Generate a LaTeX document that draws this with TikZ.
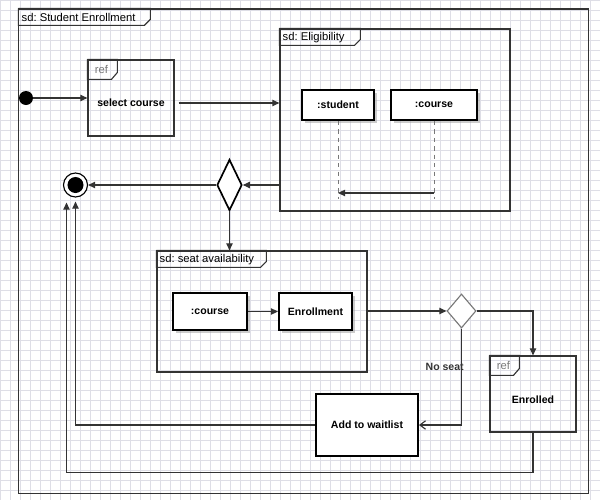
\documentclass[tikz,border=0pt]{standalone}
\usepackage{fontspec}
\setmainfont{Liberation Sans}
\usetikzlibrary{arrows.meta,positioning,shapes.geometric,shadows}
\definecolor{umlline}{RGB}{51,51,51}
\definecolor{umlgray}{RGB}{120,120,120}
\definecolor{gridgray}{RGB}{222,222,230}
\newcommand\lblfont{\fontsize{7.5}{9}\selectfont\bfseries\frenchspacing}
\newcommand\sdfont{\fontsize{8}{10}\selectfont\frenchspacing}

\begin{document}
\begin{tikzpicture}[x=0.025cm, y=-0.025cm,
  sdframe/.style={draw=umlline, line width=0.8pt, inner sep=0pt},
  refbox/.style={draw=umlline, line width=0.8pt, inner sep=0pt},
  objbox/.style={draw=black, line width=1.4pt, fill=white, inner sep=0pt, font=\lblfont,
    drop shadow={shadow xshift=2pt, shadow yshift=-2pt, fill=black!40, opacity=0.5}},
  lbl/.style={font=\lblfont, inner sep=0pt},
  flow/.style={-{Triangle[length=5pt,width=4.5pt]}, umlline, line width=0.8pt},
  lifeline/.style={umlgray, dashed, line width=0.7pt}]
\useasboundingbox (0,0) rectangle (600,500);
% background grid
\draw[gridgray, line width=0.3pt, step=0.25cm] (0,500) grid (600,0);

% frames
\node[sdframe, minimum width=14.225cm, minimum height=12.1cm] (outer) at (303.5,251) {};
\node[sdframe, minimum width=5.75cm, minimum height=4.55cm] (elig) at (395,120) {};
\node[sdframe, minimum width=5.25cm, minimum height=3.025cm] (seat) at (262,311.5) {};
\foreach \f/\w/\t in {outer/132/Student Enrollment, elig/81/Eligibility, seat/110/seat availability} {
  \draw[umlline, line width=0.8pt] (\f.north west) -- ++(\w,0) -- ++(0,11) -- ++(-6,6) -| (\f.north west);
  \node[anchor=west, font=\sdfont, inner sep=0pt] (\f-tab) at ([shift={(3,9)}]\f.north west) {sd: \t};
}

% start, ref boxes
\node[circle, fill=black, minimum size=0.35cm, inner sep=0pt] (start) at (26,98) {};
\node[refbox, minimum width=2.15cm, minimum height=1.9cm,
  label={[lbl, yshift=-0.125cm]center:select course}] (selcourse) at (131,98) {};
\node[refbox, minimum width=2.15cm, minimum height=1.9cm,
  label={[lbl, yshift=-0.15cm]center:Enrolled}] (enrolled) at (533,394) {};
\foreach \r in {selcourse, enrolled} {
  \draw[umlline, line width=0.8pt] (\r.north west) -- ++(30,0) -- ++(0,13) -- ++(-6,7) -| (\r.north west);
  \node[font=\sdfont, text=umlgray, inner sep=0pt] (\r-ref) at ([shift={(14,10)}]\r.north west) {ref};
}

% lifelines in Eligibility
\node[objbox, minimum width=1.8cm, minimum height=0.75cm] (stud) at (338,105) {:student};
\node[objbox, minimum width=2.15cm, minimum height=0.75cm] (ecrs) at (434,105) {:course};
\draw[lifeline] (stud.south) -- ++(0,78) coordinate (studend);
\draw[lifeline] (ecrs.south) -- ++(0,78) coordinate (ecrsend);
\draw[flow] ([yshift=0.15cm]ecrsend) -- ([yshift=0.15cm]studend);

% decisions and final state
\node[diamond, draw=black, line width=1.2pt, fill=white, minimum width=0.625cm, minimum height=1.275cm, inner sep=0pt] (dec1) at (229.5,185) {};
\node[circle, draw=black, line width=0.8pt, fill=white, minimum size=0.6cm, inner sep=0pt,
  path picture={\fill[black] (path picture bounding box.center) circle (0.2cm);}] (final) at (75.5,185) {};
\node[diamond, draw=umlgray, line width=0.8pt, fill=white, minimum width=0.725cm, minimum height=0.85cm, inner sep=0pt] (dec2) at (461.5,311) {};

% seat availability
\node[objbox, minimum width=1.85cm, minimum height=0.925cm] (scrs) at (210,311.5) {:course};
\node[objbox, minimum width=1.825cm, minimum height=0.925cm] (enroll) at (315.5,311.5) {Enrollment};
\node[draw=black, line width=1.4pt, fill=white, minimum width=2.55cm, minimum height=1.55cm, font=\lblfont] (waitlist) at (367,425) {Add to waitlist};

% connectors
\draw[flow] (start) -- (selcourse);
\draw[flow] ([shift={(4,5)}]selcourse.east) -- (elig.west |- 0,103);
\draw[flow] (elig.west |- dec1.east) -- (dec1.east);
\draw[flow] (dec1) -- (final);
\draw[flow] (dec1.south) -- (dec1.south |- seat.north);
\draw[flow] (scrs) -- (enroll);
\draw[flow] (seat.east |- dec2.west) -- (dec2.west);
\draw[flow] (dec2.east) -| (enrolled.north);
\draw[umlline, line width=0.8pt, -{Straight Barb[length=4pt,width=6pt]}] (dec2.south) |- node[pos=0.2, left=-2pt, lbl] {No seat} (waitlist.east);
\draw[flow] (waitlist.west) -| ([yshift=-0.1cm]final.south);
\draw[flow] (enrolled.south) -- ++(0,40) -| ([shift={(-9,5)}]final.south);
\end{tikzpicture}
\end{document}
